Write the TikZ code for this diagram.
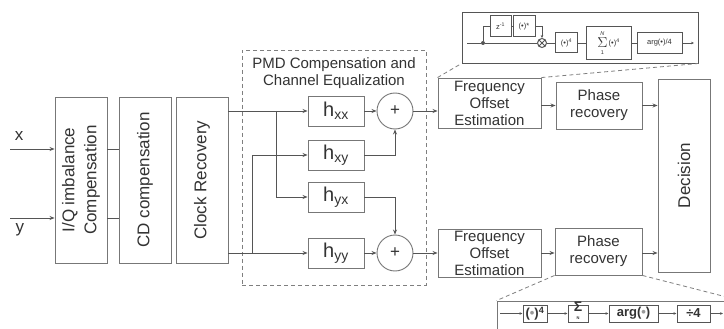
\documentclass[tikz,border=0pt]{standalone}
\usepackage{fontspec}
\setmainfont{Liberation Sans}
\usetikzlibrary{arrows.meta}
\definecolor{boxc}{HTML}{777777}
\definecolor{lnc}{HTML}{555555}
\definecolor{txt}{HTML}{333333}
\definecolor{dshc}{HTML}{7F7F7F}
\definecolor{dotc}{HTML}{999999}
\tikzset{
  blk/.style={draw=boxc, line width=0.9pt, inner sep=0pt, align=center, text=txt,
    font=\fontsize{17}{22}\selectfont},
  sblk/.style={blk, font=\fontsize{15}{17}\selectfont},
  hblk/.style={blk, minimum width=56, minimum height=30, font=\fontsize{20}{22}\selectfont},
  adder/.style={circle, draw=boxc, line width=0.9pt, minimum size=36, inner sep=0pt,
    text=txt, font=\fontsize{17}{20}\selectfont},
  ib/.style={draw=lnc, line width=1pt, inner sep=0pt, align=center, text=txt,
    font=\fontsize{7.5}{8}\selectfont},
  bb/.style={draw=lnc, line width=1pt, inner sep=0pt, align=center, text=txt,
    minimum height=17, font=\fontsize{13}{14}\selectfont\bfseries},
  arr/.style={draw=lnc, line width=0.8pt, -{Stealth[length=5pt,width=4pt]}},
  sarr/.style={draw=lnc, line width=0.8pt, -{Stealth[length=3pt,width=2.6pt]}},
  ln/.style={draw=lnc, line width=0.8pt},
  dsh/.style={draw=dshc, line width=0.8pt, dash pattern=on 4pt off 3pt},
  lbl/.style={inner sep=0pt, text=txt, font=\fontsize{17}{20}\selectfont},
}
\begin{document}
\begin{tikzpicture}[x=1pt,y=-1pt]
\fill[white] (0,0) rectangle (724,329);
\clip (0,0) rectangle (724,329);

% input labels and front-end blocks
\node[lbl] (xl) at (19,136.5) {x};
\node[lbl] (yl) at (20,230) {y};
\coordinate (xin) at (10,149);
\coordinate (yin) at (10,218);

\node[blk, minimum width=52, minimum height=166] (iq) at (81,180)
  {\rotatebox{90}{\begin{tabular}{@{}c@{}}I/Q imbalance\\Compensation\end{tabular}}};
\node[blk, minimum width=52, minimum height=166] (cd) at (145,180)
  {\rotatebox{90}{CD compensation}};
\node[blk, minimum width=52, minimum height=166] (clk) at (202,180)
  {\rotatebox{90}{Clock Recovery}};

\draw[arr] (xin) -- (xin -| iq.west);
\draw[arr] (yin) -- (yin -| iq.west);
\draw[ln] (iq.east |- xin) -- (cd.west |- xin);
\draw[ln] (iq.east |- yin) -- (cd.west |- yin);

% butterfly equalizer
\node[dsh, minimum width=184, minimum height=235, inner sep=0pt] (pmd) at (334,167.5) {};
\node[inner sep=0pt, align=center, text=txt, font=\fontsize{15}{17}\selectfont] (pmdt) at (334,73.5)
  {PMD Compensation and\\Channel Equalization};

\node[hblk] (hxx) at (336,111) {h\textsubscript{xx}};
\node[hblk] (hxy) at (336,155) {h\textsubscript{xy}};
\node[hblk] (hyx) at (336,197) {h\textsubscript{yx}};
\node[hblk] (hyy) at (336,253) {h\textsubscript{yy}};
\node[adder] (s1) at (395,111) {+};
\node[adder] (s2) at (395,253) {+};

\coordinate (bt) at (276,111);
\coordinate (bb) at (252,253);
\draw[arr] (clk.east |- hxx.west) -- (hxx.west);
\draw[arr] (clk.east |- hyy.west) -- (hyy.west);
\draw[arr] (bt) |- (hyx.west);
\draw[arr] (bb) |- (hxy.west);
\draw[arr] (hxx) -- (s1);
\draw[arr] (hyy) -- (s2);
\draw[arr] (hxy.east) -| (s1.south);
\draw[arr] (hyx.east) -| (s2.north);

% carrier recovery and decision
\node[sblk, minimum width=103, minimum height=50] (foe1) at (489.5,103)
  {Frequency\\Offset\\Estimation};
\node[sblk, minimum width=103, minimum height=48] (foe2) at (489.5,253)
  {Frequency\\Offset\\Estimation};
\node[sblk, minimum width=86, minimum height=47] (pr1) at (599,105.5) {Phase\\recovery};
\node[sblk, minimum width=87, minimum height=47] (pr2) at (598.5,251.5) {Phase\\recovery};
\node[blk, minimum width=52, minimum height=193] (dec) at (684,175.5) {\rotatebox{90}{Decision}};

\draw[arr] (s1.east) -- (s1.east -| foe1.west);
\draw[arr] (s2.east) -- (s2.east -| foe2.west);
\draw[arr] (foe1.east |- pr1) -- (pr1.west);
\draw[arr] (pr1.east) -- (pr1.east -| dec.west);
\draw[arr] (foe2.east) -- (foe2.east -| pr2.west);
\draw[arr] (pr2.east |- foe2) -- (dec.west |- foe2);

% detail of the frequency offset estimator
\node[draw=lnc, line width=0.9pt, minimum width=236, minimum height=51, inner sep=0pt] (ins1) at (580,37.5) {};
\draw[dsh] (foe1.north west) -- (ins1.south west);
\draw[dsh] (foe1.north east) -- (ins1.south east);

\coordinate (in1) at (467,43);
\coordinate (out1) at (694,43);
\node[circle, fill=lnc, inner sep=0pt, minimum size=4] (jn) at (483,43) {};
\node[ib, minimum width=21, minimum height=21] (zd) at (500.5,26.5) {z\textsuperscript{-1}};
\node[ib, minimum width=22, minimum height=21] (cj) at (524,26.5) {(\textbullet)*};
\node[circle, draw=lnc, line width=1pt, minimum size=9, inner sep=0pt,
  path picture={\draw[lnc, line width=0.8pt]
    (path picture bounding box.north west) -- (path picture bounding box.south east)
    (path picture bounding box.north east) -- (path picture bounding box.south west);}]
  (mx) at (542,43) {};
\node[ib, minimum width=22, minimum height=20] (p4) at (566.5,43) {(\textbullet)\textsuperscript{4}};
\node[ib, minimum width=45, minimum height=33] (sm) at (608.5,43.5)
  {\begin{tabular}{@{}c@{}}{\fontsize{5.5}{6}\selectfont\itshape N}\\[-1pt]
     {\fontsize{15}{15}\selectfont$\Sigma$}\\[-1pt]
     {\fontsize{5.5}{6}\selectfont 1}\end{tabular}\,(\textbullet)\textsuperscript{4}};
\node[ib, minimum width=45, minimum height=21] (ag) at (659.5,43) {arg(\textbullet)/4};

\draw[ln] (in1) -- (jn) -- (mx.west);
\draw[ln] (jn) |- (zd.west);
\draw[ln] (zd) -- (cj);
\draw[sarr] (cj.east) -| (mx.north);
\draw[ln] (mx.east) -- (p4.west);
\draw[ln] (p4.east) -- (sm.west |- p4);
\draw[ln] (sm.east |- ag) -- (ag.west);
\draw[sarr] (ag.east) -- (out1);

% detail of the phase recovery
\node[draw=boxc, line width=0.9pt, minimum width=243, minimum height=59, inner sep=0pt] (ins2) at (618.5,330.5) {};
\draw[dsh] (pr2.south west) -- (ins2.north west);
\draw[dsh] (pr2.south east) -- (ins2.north east);

\coordinate (in2) at (500,313.5);
\coordinate (out2) at (723,313.5);
\node[bb, minimum width=24] (q4) at (535,313.5) {(\textcolor{dotc}{\textbullet})\textsuperscript{4}};
\node[bb, minimum width=20] (sg) at (578,313.5)
  {\raisebox{-2pt}[0pt][0pt]{\begin{tabular}{@{}c@{}}{\fontsize{14}{14}\selectfont Σ}\\[-6pt]{\fontsize{4}{4}\selectfont N}\end{tabular}}};
\node[bb, minimum width=49] (ab) at (633.5,313.5) {arg(\textcolor{dotc}{\textbullet})};
\node[bb, minimum width=33] (dv) at (693.5,313.5) {÷4};

\draw[sarr] (in2) -- (q4.west);
\draw[sarr] (q4) -- (sg);
\draw[sarr] (sg) -- (ab);
\draw[sarr] (ab) -- (dv);
\draw[sarr] (dv.east) -- (out2);
\end{tikzpicture}
\end{document}
